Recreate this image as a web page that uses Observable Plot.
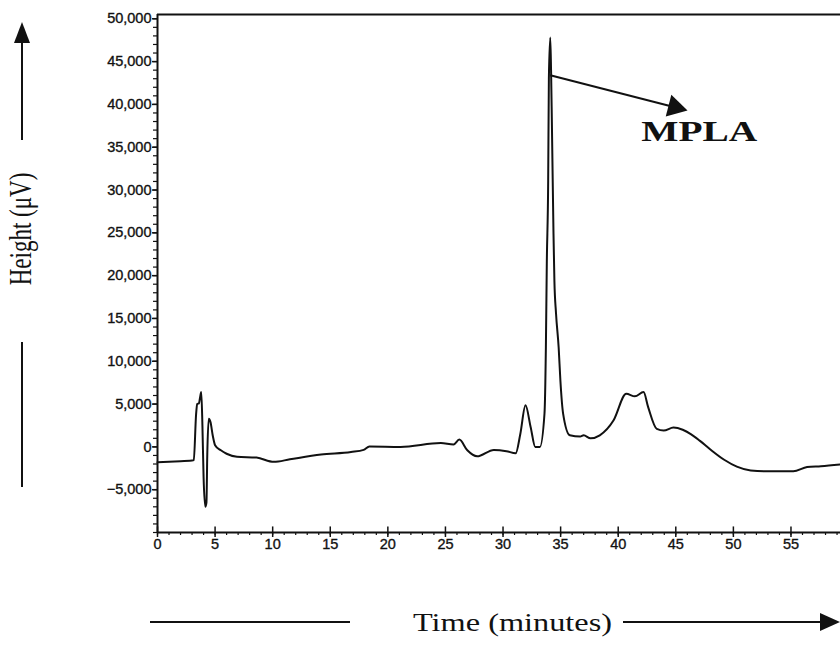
<!DOCTYPE html>
<html>
<head>
<meta charset="utf-8">
<script src="https://cdn.jsdelivr.net/npm/d3@7"></script>
<script src="https://cdn.jsdelivr.net/npm/@observablehq/plot@0.6"></script>
<style>
  html, body { margin: 0; padding: 0; background: #fff; }
  #chart { width: 840px; height: 645px; }
</style>
</head>
<body>
<div id="chart"></div>
<script>
// ---- Data ----
const timeMin = [
  0, 1.5, 3.0, 3.15, 3.35, 3.45, 3.6, 3.7, 3.8, 3.9, 4.0, 4.15, 4.25, 4.32, 4.45, 4.6, 4.8, 5.0, 5.5, 6.0,
  6.9, 8.6, 10.1, 11.5, 14.2, 16.8, 17.9, 18.4, 21.1, 24.6, 25.7, 26.2, 26.9, 27.75, 29.2, 30.3, 31.1,
  31.5, 31.95, 32.4, 32.8, 33.2, 33.6, 33.72, 33.8, 33.92, 33.98, 34.1, 34.17, 34.24, 34.38, 34.46, 34.6,
  34.83, 34.98, 35.22, 35.8, 36.7, 37.0, 37.6, 38.4, 39.6, 40.7, 41.45, 42.2, 42.6, 43.35, 43.95, 44.8,
  45.6, 46.3, 47.1, 48.0, 49.2, 50.3, 51.5, 52.9, 55.2, 56.4, 57.6, 59.3
];
const heightUV = [
  -1800, -1700, -1600, -1550, 3800, 5000, 5100, 5800, 6400, 2500, -3500, -7000, -6500, -1000, 3300, 2900, 1300, 200, -400, -800,
  -1150, -1250, -1750, -1450, -900, -600, -350, 50, 0, 450, 280, 850, -400, -1100, -350, -500, -750,
  1500, 4850, 2300, 0, 0, 3900, 11600, 21400, 31100, 43000, 47800, 44000, 38000, 25000, 19400, 15600,
  11600, 7750, 3850, 1350, 1200, 1350, 1000, 1350, 3100, 6200, 5900, 6400, 4650, 2100, 1900, 2250,
  2000, 1500, 700, -300, -1500, -2300, -2750, -2850, -2850, -2350, -2250, -2050
];
const yTickValues = [-5000, 0, 5000, 10000, 15000, 20000, 25000, 30000, 35000, 40000, 45000, 50000];
const xTickValues = [0, 5, 10, 15, 20, 25, 30, 35, 40, 45, 50, 55];
const xDomain = [0, 59.3];
const yDomain = [-10000, 50500];

// annotation: arrow from the MPLA peak to its label
const peakName = ["MPLA"];
const arrowStart = [34.1, 43400];
const arrowEnd = [44.92, 39670];
const labelPos = [42.0, 36800];

const xTitle = "Time (minutes)";
const yTitle = "Height (\u03BCV)";

// ---- Build ----
const trace = timeMin.map((t, i) => ({t, v: heightUV[i]}));
const minorY = d3.range(yDomain[0], 50001, 1000);
const minorX = d3.range(0, 60, 1);
const arrowData = [{x1: arrowStart[0], y1: arrowStart[1], x2: arrowEnd[0], y2: arrowEnd[1]}];
const headData = [{x: arrowEnd[0], y: arrowEnd[1]}];
const labelData = [{x: labelPos[0], y: labelPos[1], text: peakName[0]}];
const ink = "#111";

const chart = Plot.plot({
  width: 840,
  height: 645,
  marginTop: 14,
  marginBottom: 113,
  marginLeft: 157,
  marginRight: 0,
  x: {domain: xDomain, label: null},
  y: {domain: yDomain, label: null},
  style: {fontFamily: "'Liberation Sans', Arial, sans-serif", fontSize: "14.5px", color: ink, background: "#fff", overflow: "visible"},
  marks: [
    Plot.axisY(minorY, {tickSize: 4, tickFormat: () => "", stroke: ink, strokeWidth: 1.2}),
    Plot.axisY(yTickValues, {tickSize: 5, tickPadding: 1, tickFormat: d3.format(","), stroke: ink, strokeWidth: 1.5, fill: ink, className: "ticklab"}),
    Plot.axisX(minorX, {tickSize: 3, tickFormat: () => "", stroke: ink, strokeWidth: 1.2}),
    Plot.axisX(xTickValues, {tickSize: 5, tickPadding: 1, stroke: ink, strokeWidth: 1.5, fill: ink, className: "ticklab"}),
    Plot.ruleX(xTickValues, {x: d => d, y1: yDomain[0], y2: yDomain[0] + 650, stroke: ink, strokeWidth: 1.5}),
    Plot.ruleX([0], {stroke: ink, strokeWidth: 2}),
    Plot.ruleY([yDomain[0]], {stroke: ink, strokeWidth: 2}),
    Plot.ruleY([yDomain[1]], {stroke: ink, strokeWidth: 2}),
    Plot.line(trace, {x: "t", y: "v", stroke: ink, strokeWidth: 2, strokeLinejoin: "round", curve: "monotone-x"}),
    Plot.link(arrowData, {x1: "x1", y1: "y1", x2: "x2", y2: "y2", stroke: ink, strokeWidth: 2}),
    Plot.dot(headData, {x: "x", y: "y", symbol: "triangle", r: 8.4, fill: ink, stroke: null, rotate: 104.3}),
    Plot.text(labelData, {x: "x", y: "y", text: "text", fontFamily: "'Liberation Serif', 'Times New Roman', serif", fontWeight: "bold", fontSize: 29, fill: ink, textAnchor: "start", lineAnchor: "middle", className: "peak-label"})
  ]
});

document.getElementById("chart").appendChild(chart);

// stretch the peak label horizontally like the scanned original
d3.select(chart).selectAll(".peak-label text").attr("textLength", 116).attr("lengthAdjust", "spacingAndGlyphs");
// slightly heavier tick labels, like the scanned original
d3.select(chart).selectAll(".ticklab text").attr("stroke", ink).attr("stroke-width", 0.35);

// ---- outer axis titles with arrows ----
const svg = d3.select(chart);
const deco = svg.append("g").attr("fill", ink).attr("stroke", ink).attr("text-anchor", "start");
const serif = "'Liberation Serif', 'Times New Roman', serif";

// vertical (left)
deco.append("line").attr("x1", 22).attr("x2", 22).attr("y1", 40).attr("y2", 140).attr("stroke-width", 2);
deco.append("path").attr("d", "M22,22 L14,43 L30,43 Z").attr("stroke", "none");
deco.append("line").attr("x1", 22).attr("x2", 22).attr("y1", 342).attr("y2", 487).attr("stroke-width", 2);
deco.append("text")
  .attr("transform", "translate(31,229) scale(1.35,1) rotate(-90)")
  .attr("text-anchor", "middle")
  .attr("font-family", serif).attr("font-size", 23).attr("stroke", "none")
  .text(yTitle);

// horizontal (bottom)
deco.append("line").attr("x1", 150).attr("x2", 350).attr("y1", 622).attr("y2", 622).attr("stroke-width", 2);
deco.append("line").attr("x1", 623).attr("x2", 824).attr("y1", 622).attr("y2", 622).attr("stroke-width", 2);
deco.append("path").attr("d", "M840,622 L820,613 L820,631 Z").attr("stroke", "none");
deco.append("text")
  .attr("x", 413).attr("y", 631)
  .attr("text-anchor", "start")
  .attr("font-family", serif).attr("font-size", 25).attr("stroke", "none")
  .attr("textLength", 199).attr("lengthAdjust", "spacingAndGlyphs")
  .text(xTitle);
</script>
</body>
</html>
